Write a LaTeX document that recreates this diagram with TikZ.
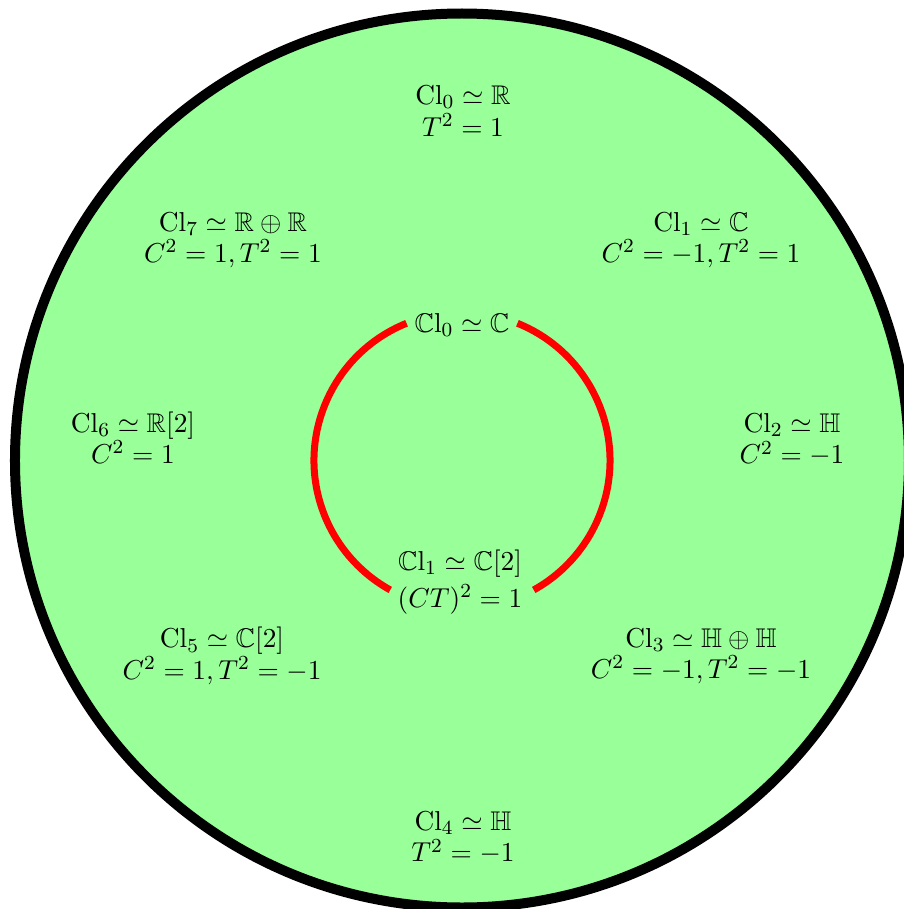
\documentclass[tikz,border=0pt]{standalone}
\usepackage{amsmath,amssymb}
\begin{document}
\begin{tikzpicture}[x=0.4pt,y=0.4pt,
  lbl/.style={align=center, inner sep=1pt, text=black, font=\fontsize{10.8}{12.5}\selectfont}]
\useasboundingbox (-462,-448.5) rectangle (442,460.5);
\fill[green!40] (0,0) circle[radius=178.8pt];
\draw[line width=4pt, black] (0,0) circle[radius=178.8pt];
% inner red arcs
\coordinate (c) at (0,0);
\draw[red, line width=2.8pt] (c) ++(68:59.2pt) arc[start angle=68, end angle=-61, radius=59.2pt];
\draw[red, line width=2.8pt] (c) ++(112:59.2pt) arc[start angle=112, end angle=241, radius=59.2pt];
% outer labels
\node[lbl] (n0) at (1,349.5) {$\mathrm{Cl}_0 \simeq \mathbb{R}$\\ $T^2 = 1$};
\node[lbl] (n1) at (239,220.5) {$\mathrm{Cl}_1 \simeq \mathbb{C}$\\ $C^2 = -1, T^2 = 1$};
\node[lbl] (n2) at (330,20.5) {$\mathrm{Cl}_2 \simeq \mathbb{H}$\\ $C^2 = -1$};
\node[lbl] (n3) at (239,-195.5) {$\mathrm{Cl}_3 \simeq \mathbb{H}\oplus\mathbb{H}$\\ $C^2 = -1, T^2 = -1$};
\node[lbl] (n4) at (1,-377.5) {$\mathrm{Cl}_4 \simeq \mathbb{H}$\\ $T^2 = -1$};
\node[lbl] (n5) at (-240,-195.5) {$\mathrm{Cl}_5 \simeq \mathbb{C}[2]$\\ $C^2 = 1, T^2 = -1$};
\node[lbl] (n6) at (-329,22.5) {$\mathrm{Cl}_6 \simeq \mathbb{R}[2]$\\ $C^2 = 1$};
\node[lbl] (n7) at (-229,220.5) {$\mathrm{Cl}_7 \simeq \mathbb{R}\oplus\mathbb{R}$\\ $C^2 = 1, T^2 = 1$};
% inner labels
\node[lbl] (m0) at (0,135.5) {$\mathbb{C}\mathrm{l}_0 \simeq \mathbb{C}$};
\node[lbl] (m1) at (-2,-121.5) {$\mathbb{C}\mathrm{l}_1 \simeq \mathbb{C}[2]$\\[2.5pt] $(CT)^2 = 1$};
\end{tikzpicture}
\end{document}
